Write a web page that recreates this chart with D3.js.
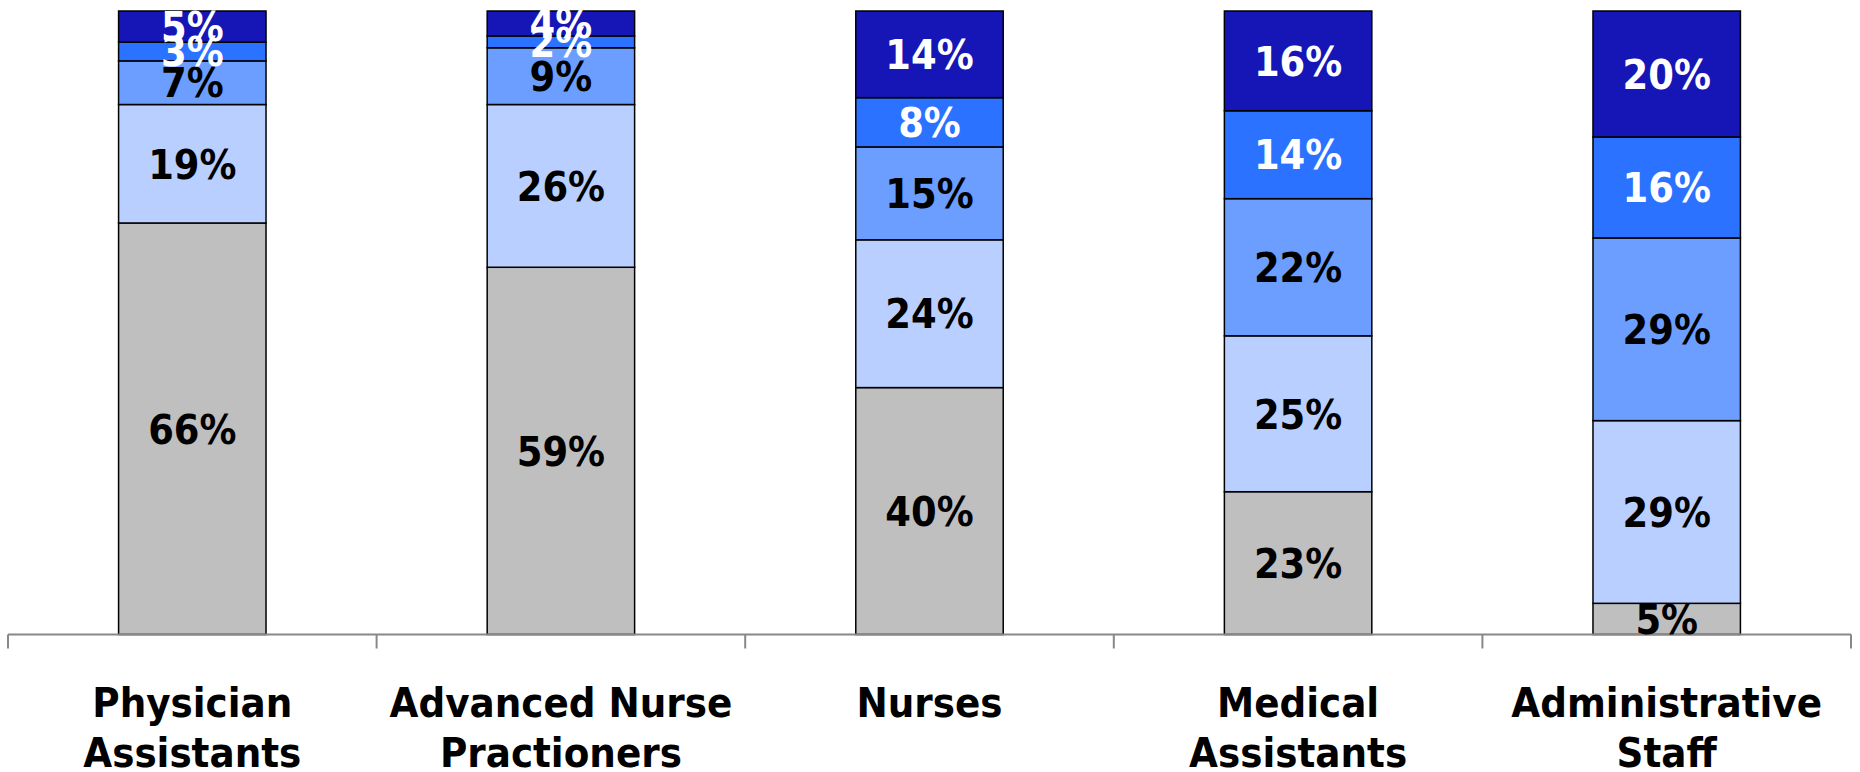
<!DOCTYPE html>
<html>
<head>
<meta charset="utf-8">
<script src="https://cdn.jsdelivr.net/npm/d3@7"></script>
<style>
  body { margin: 0; background: #fff; }
  text { font-family: "DejaVu Sans Condensed", "DejaVu Sans", sans-serif; font-weight: bold; font-stretch: condensed; }
</style>
</head>
<body>
<div id="chart"></div>
<script>
// categories along the x axis (two lines each)
var categories = ["Physician Assistants", "Advanced Nurse Practioners", "Nurses", "Medical Assistants", "Administrative Staff"];
var catLines = [["Physician", "Assistants"], ["Advanced Nurse", "Practioners"], ["Nurses"], ["Medical", "Assistants"], ["Administrative", "Staff"]];

// series, bottom to top (percent of staff)
var keys = ["s1", "s2", "s3", "s4", "s5"];
var s1 = [66.0, 58.9, 39.6, 22.9, 5.0];
var s2 = [19.0, 26.1, 23.7, 25.0, 29.3];
var s3 = [7.0, 9.1, 14.9, 22.0, 29.3];
var s4 = [3.0, 1.9, 7.9, 14.1, 16.2];
var s5 = [5.0, 4.0, 13.9, 16.0, 20.2];

var fills = ["#bfbfbf", "#b8cfff", "#6b9eff", "#2a72ff", "#1616b6"];
var labelColors = ["#000", "#000", "#000", "#fff", "#fff"];

var width = 1860, height = 772;

var rows = categories.map(function(c, i) {
  return {cat: c, s1: s1[i], s2: s2[i], s3: s3[i], s4: s4[i], s5: s5[i]};
});

var svg = d3.select("#chart").append("svg")
  .attr("width", width)
  .attr("height", height);

var x = d3.scaleBand()
  .domain(categories)
  .range([8, 1851])
  .paddingInner(0.6)
  .paddingOuter(0.3);

var y = d3.scaleLinear()
  .domain([0, 100])
  .range([634.5, 11]);

var stacked = d3.stack().keys(keys)(rows);

// bars
var layers = svg.selectAll("g.layer")
  .data(stacked)
  .enter().append("g")
  .attr("class", "layer")
  .attr("fill", function(d, i) { return fills[i]; });

layers.selectAll("rect")
  .data(function(d) { return d; })
  .enter().append("rect")
  .attr("x", function(d) { return x(d.data.cat); })
  .attr("y", function(d) { return y(d[1]); })
  .attr("width", x.bandwidth())
  .attr("height", function(d) { return y(d[0]) - y(d[1]); })
  .attr("stroke", "#000")
  .attr("stroke-width", 1.5);

// axis line + ticks between categories
var step = x.step();
var axisG = svg.append("g").attr("class", "axis");
axisG.append("line")
  .attr("x1", x.range()[0]).attr("x2", x.range()[1])
  .attr("y1", y(0)).attr("y2", y(0))
  .attr("stroke", "#888").attr("stroke-width", 2);
d3.range(categories.length + 1).forEach(function(i) {
  var tx = x.range()[0] + i * step;
  axisG.append("line")
    .attr("x1", tx).attr("x2", tx)
    .attr("y1", y(0)).attr("y2", y(0) + 14)
    .attr("stroke", "#888").attr("stroke-width", 2);
});

// value labels, centered in each segment
stacked.forEach(function(layer, li) {
  svg.append("g").selectAll("text")
    .data(layer)
    .enter().append("text")
    .attr("x", function(d) { return x(d.data.cat) + x.bandwidth() / 2; })
    .attr("y", function(d) { return (y(d[0]) + y(d[1])) / 2; })
    .attr("dy", "0.36em")
    .attr("text-anchor", "middle")
    .attr("fill", labelColors[li])
    .style("font-size", "41px")
    .text(function(d) { return Math.round(d[1] - d[0]) + "%"; });
});

// category labels
catLines.forEach(function(lines, i) {
  var t = svg.append("text")
    .attr("x", x(categories[i]) + x.bandwidth() / 2)
    .attr("y", 717)
    .attr("text-anchor", "middle")
    .attr("fill", "#000")
    .style("font-size", "41.5px");
  lines.forEach(function(l, j) {
    t.append("tspan")
      .attr("x", x(categories[i]) + x.bandwidth() / 2)
      .attr("y", 717 + j * 50)
      .text(l);
  });
});
</script>
</body>
</html>
